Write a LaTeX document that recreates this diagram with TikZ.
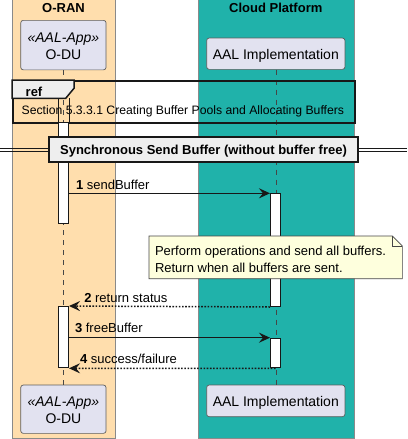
\documentclass[tikz,border=0pt]{standalone}
\usepackage{fontspec}
\setmainfont{Liberation Sans}
\usetikzlibrary{arrows.meta,calc}
\definecolor{oran}{HTML}{FFDEAD}
\definecolor{cloud}{HTML}{20B2AA}
\definecolor{partc}{HTML}{E2E2F0}
\definecolor{notec}{HTML}{FEFFDD}
\definecolor{ink}{HTML}{181818}
\definecolor{grp}{HTML}{EEEEEE}
\definecolor{boxline}{HTML}{8A8A8A}
\newcommand\fmsg{\fontsize{13}{15}\selectfont}
\newcommand\fpart{\fontsize{14}{16}\selectfont}
\newcommand\fref{\fontsize{12.2}{15}\selectfont}
\begin{document}
\begin{tikzpicture}[x=1pt,y=-1pt,
  txt/.style={inner sep=0pt,outer sep=0pt,anchor=base},
  txtl/.style={inner sep=0pt,outer sep=0pt,anchor=base west},
  grpbox/.style={draw=boxline,line width=0.8pt},
  partbox/.style={draw=ink!70,fill=partc,line width=0.7pt,rounded corners=2.5pt,inner sep=0pt,minimum width=85.3pt},
  lifeline/.style={draw=ink!80,line width=0.6pt,dash pattern=on 5pt off 5pt},
  actbar/.style={draw=ink,fill=white,line width=1pt,inner sep=0pt,minimum width=10pt,anchor=north},
  msgline/.style={draw=ink,line width=1.5pt,-{Stealth[length=11pt,width=10pt,inset=4pt]}},
  retline/.style={msgline,dash pattern=on 1.6pt off 1.6pt},
  notebox/.style={inner sep=0pt,minimum width=253pt,minimum height=42.3pt,anchor=north west}]
\useasboundingbox (0,0) rectangle (407,439);
\clip (0,0) rectangle (407,439);
% group boxes
\node[grpbox,fill=oran,inner sep=0pt,minimum width=103.6pt,minimum height=440pt,anchor=north west] (gran) at (11.7,-1.7) {};
\node[grpbox,fill=cloud,inner sep=0pt,minimum width=156.5pt,minimum height=440pt,anchor=north west] (gcloud) at (197.5,-1.7) {};
\node[txt,font=\fmsg\bfseries] (tran) at (63.5,12.7) {O-RAN};
\node[txt,font=\fmsg\bfseries] (tcloud) at (275.8,12.7) {Cloud Platform};
% participants
\node[partbox,minimum height=49.5pt,anchor=north] (odutop) at (63.4,20) {};
\node[txt,font=\fpart\itshape] (odust1) at (63.4,42.3) {«AAL-App»};
\node[txt,font=\fpart] (odun1) at (63.4,59) {O-DU};
\node[partbox,minimum width=138.3pt,minimum height=31.3pt,anchor=north] (aaltop) at (275.8,37.7) {};
\node[txt,font=\fpart] (aaln1) at (275.8,59) {AAL Implementation};
\node[partbox,minimum height=48.3pt,anchor=north] (odubot) at (63.4,384.7) {};
\node[txt,font=\fpart\itshape] (odust2) at (63.4,406) {«AAL-App»};
\node[txt,font=\fpart] (odun2) at (63.4,423.3) {O-DU};
\node[partbox,minimum width=138.3pt,minimum height=31.6pt,anchor=north] (aalbot) at (275.8,384.7) {};
\node[txt,font=\fpart] (aaln2) at (275.8,406) {AAL Implementation};
% lifelines
\draw[lifeline] (odutop.south) -- (odubot.north);
\draw[lifeline] (aaltop.south) -- (aalbot.north);
% ref frame
\node[draw=ink,line width=1.5pt,inner sep=0pt,minimum width=342pt,minimum height=42pt,anchor=north west] (ref) at (12,80) {};
\draw[draw=ink,fill=grp,line width=1.5pt] (ref.north west) -- ++(62,0) -- ++(0,8.3) -- ++(-8.3,10) -- ++(-53.7,0) -- cycle;
\node[txtl,font=\fmsg\bfseries] (reflab) at (25.7,96) {ref};
\node[txtl,font=\fref] (reftxt) at (21.7,114.7) {Section 5.3.3.1 Creating Buffer Pools and Allocating Buffers};
% activation bars
\node[actbar,minimum height=101pt] (odub1) at (63.5,122) {};
\draw[draw=ink,line width=1pt] (odub1.north west) -- ++(0,-24);
\draw[draw=ink,line width=1pt] (odub1.north east) -- ++(0,-24);
\node[actbar,minimum height=61.3pt] (odub2) at (63.5,306) {};
\node[actbar,minimum height=112.7pt] (aalb1) at (275.5,193.3) {};
\node[actbar,minimum height=29.6pt] (aalb2) at (275.5,337.7) {};
% divider
\coordinate (dl) at (0,150);
\coordinate (dr) at (407,150);
\node[draw=ink,fill=grp,line width=1.5pt,inner sep=0pt,minimum width=309pt,minimum height=25pt] (div) at (203.5,149.5) {};
\node[txt,font=\fmsg\bfseries] (divtxt) at (203.5,154.7) {Synchronous Send Buffer (without buffer free)};
\draw[draw=ink,line width=0.7pt] ([yshift=-1.7pt]dl) -- ([yshift=-1.7pt]div.west |- dl);
\draw[draw=ink,line width=0.7pt] ([yshift=1.7pt]dl) -- ([yshift=1.7pt]div.west |- dl);
\draw[draw=ink,line width=0.7pt] ([yshift=-1.7pt]div.east |- dr) -- ([yshift=-1.7pt]dr);
\draw[draw=ink,line width=0.7pt] ([yshift=1.7pt]div.east |- dr) -- ([yshift=1.7pt]dr);
% messages
\coordinate (m1) at (0,193.3);
\coordinate (m3) at (0,337.7);
\draw[msgline] (odub1.east |- m1) -- (aalb1.north west);
\node[txtl,font=\fmsg] (l1) at (76,189.3) {\textbf{1}\ sendBuffer};
\draw[retline] (aalb1.south west) -- (odub2.north east);
\node[txtl,font=\fmsg] (l2) at (84.3,302.3) {\textbf{2}\ return status};
\draw[msgline] (odub2.east |- m3) -- (aalb2.north west);
\node[txtl,font=\fmsg] (l3) at (75,332.3) {\textbf{3}\ freeBuffer};
\draw[retline] (aalb2.south) -- (odub2.south east);
\node[txtl,font=\fmsg] (l4) at (80,363) {\textbf{4}\ success/failure};
% note
\node[notebox] (note) at (149,236) {};
\draw[draw=ink!80,fill=notec,line width=0.6pt] (note.north west) -- ($(note.north east)+(-10,0)$) -- ($(note.north east)+(0,10)$) -- (note.south east) -- (note.south west) -- cycle;
\draw[draw=ink!80,line width=0.6pt] ($(note.north east)+(-10,0)$) -- ($(note.north east)+(-10,10)$) -- ($(note.north east)+(0,10)$);
\node[txtl,font=\fmsg] (n1) at (155,255.7) {Perform operations and send all buffers.};
\node[txtl,font=\fmsg] (n2) at (155,272) {Return when all buffers are sent.};
\end{tikzpicture}
\end{document}
